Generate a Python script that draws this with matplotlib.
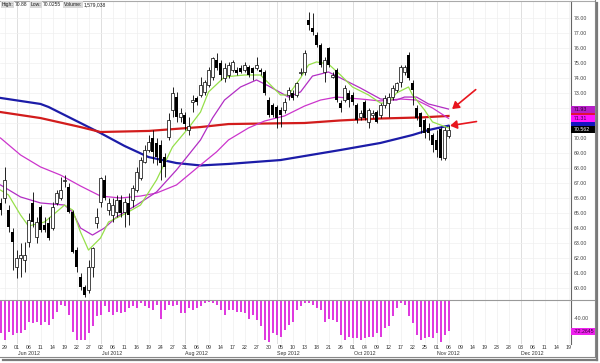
import matplotlib
matplotlib.use("Agg")
import matplotlib.pyplot as plt
import matplotlib.transforms as mtransforms
from matplotlib.patches import Rectangle
from matplotlib.lines import Line2D
import numpy as np

plt.rcParams['font.family'] = ['Liberation Sans', 'DejaVu Sans']

# daily candles, 25 May 2012 .. 6 Nov 2012 (one entry per trading day)
opens = [65.67, 66.0, 65.2, 63.73, 61.4, 62.0, 61.87, 63.07, 65.67, 63.4,
         65.4, 64.2, 64.33, 64.0, 65.67, 66.0, 67.13, 66.73, 65.07, 62.53,
         60.73, 60.07, 59.87, 61.4, 64.33, 65.73, 67.2, 65.2, 64.87, 65.07,
         65.87, 65.07, 65.67, 65.87, 66.53, 67.33, 68.4, 69.2, 70.0, 69.67,
         69.53, 68.73, 70.07, 71.87, 72.73, 71.4, 71.53, 70.53, 72.4, 72.67,
         72.87, 73.07, 73.53, 74.07, 75.2, 75.0, 74.0, 74.2, 74.53, 74.53,
         74.67, 74.53, 74.73, 74.67, 74.67, 74.53, 74.4, 72.53, 72.2, 72.07,
         71.87, 71.87, 72.87, 73.0, 72.87, 74.33, 74.4, 77.87, 77.33, 76.87,
         76.2, 74.4, 76.0, 74.07, 74.53, 72.33, 72.53, 73.0, 72.87, 72.2,
         71.4, 72.4, 71.07, 71.53, 71.73, 71.53, 72.2, 72.33, 72.73, 73.2,
         73.73, 74.4, 75.53, 73.67, 72.0, 71.67, 71.2, 70.67, 70.2, 69.87,
         70.6, 68.67, 70.15]
highs = [66.0, 68.07, 65.53, 64.0, 62.53, 63.0, 63.07, 65.0, 66.4, 64.73,
         65.53, 64.73, 64.73, 65.73, 66.53, 67.4, 67.53, 67.0, 65.2, 62.73,
         61.0, 60.2, 61.87, 62.73, 65.33, 67.4, 67.53, 66.0, 66.0, 66.2,
         66.2, 66.0, 66.33, 66.87, 68.07, 68.73, 69.53, 70.2, 70.53, 70.0,
         69.87, 69.0, 71.67, 73.4, 73.07, 72.0, 71.73, 71.4, 72.87, 72.8,
         74.07, 73.87, 74.73, 75.4, 75.67, 75.2, 75.0, 75.07, 75.2, 74.73,
         74.87, 75.07, 74.87, 74.73, 75.4, 74.67, 74.53, 72.73, 72.33, 72.2,
         72.07, 72.67, 73.4, 73.2, 73.73, 74.67, 75.87, 78.4, 78.33, 77.07,
         76.33, 75.4, 76.07, 74.4, 74.67, 72.53, 73.53, 73.2, 73.07, 72.33,
         71.87, 72.53, 72.0, 71.87, 71.87, 72.33, 72.87, 73.0, 73.53, 73.73,
         74.87, 74.87, 75.73, 73.87, 72.2, 71.73, 71.33, 71.0, 70.33, 70.53,
         70.73, 70.73, 70.88]
lows = [64.87, 65.67, 63.73, 61.2, 60.67, 60.73, 61.07, 62.73, 64.07, 63.0,
        63.73, 63.73, 63.2, 63.87, 65.53, 65.87, 66.73, 65.0, 62.33, 61.07,
        59.87, 59.4, 59.67, 60.73, 64.0, 65.4, 65.87, 64.87, 64.4, 64.73,
        64.73, 64.07, 64.2, 65.4, 66.4, 67.2, 68.33, 69.07, 68.33, 68.2,
        67.2, 67.4, 69.87, 71.4, 71.07, 71.07, 70.53, 70.2, 71.73, 72.2,
        72.73, 72.87, 73.4, 73.87, 74.53, 73.87, 73.73, 74.0, 74.4, 74.2,
        74.33, 74.4, 74.07, 73.87, 74.53, 74.2, 72.87, 71.4, 71.4, 70.67,
        70.73, 71.67, 72.53, 72.53, 72.73, 74.2, 74.2, 77.2, 76.87, 76.07,
        74.73, 73.73, 74.73, 74.0, 72.4, 71.73, 72.4, 72.07, 72.2, 71.0,
        71.2, 71.2, 70.67, 71.33, 71.0, 71.33, 72.0, 71.4, 72.53, 73.07,
        73.4, 74.2, 73.87, 72.2, 71.2, 70.33, 70.0, 69.87, 69.07, 68.73,
        68.53, 68.53, 70.0255]
closes = [65.2, 67.2, 64.07, 63.07, 62.0, 62.2, 62.2, 64.53, 64.4, 64.4,
          63.87, 63.87, 63.33, 65.4, 66.33, 66.53, 67.2, 65.07, 62.4, 61.4,
          60.07, 59.53, 61.4, 62.67, 64.73, 67.33, 66.0, 65.67, 65.53, 65.87,
          65.0, 65.73, 64.87, 66.67, 67.73, 68.53, 69.2, 69.73, 69.07, 68.73,
          68.33, 68.07, 71.2, 73.0, 71.4, 71.67, 70.93, 70.8, 72.53, 72.4,
          73.53, 73.73, 74.53, 75.33, 74.67, 74.2, 74.67, 74.87, 75.07, 74.33,
          74.4, 74.87, 74.2, 74.33, 74.87, 74.4, 73.0, 71.53, 71.53, 71.33,
          71.53, 72.4, 73.2, 72.67, 73.67, 74.4, 75.67, 77.53, 77.07, 76.2,
          74.87, 75.2, 74.87, 74.2, 72.53, 72.0, 73.33, 72.53, 72.4, 71.2,
          71.67, 71.33, 71.87, 71.67, 71.07, 72.2, 72.67, 72.73, 73.33, 73.67,
          74.73, 74.73, 74.0, 73.2, 71.33, 70.73, 70.33, 70.33, 69.53, 69.2,
          68.67, 70.53, 70.562]

# Williams %R, one value per candle
willr = [-76, -93, -74, -81, -76, -76, -69, -50, -53, -50, -57, -50, -57, -43,
         -26, -10, -12, -33, -74, -93, -93, -93, -76, -60, -36, -33, -12, -26,
         -33, -26, -29, -26, -17, -12, -17, -5, -12, -17, -21, -10, -43, -21,
         -10, -12, -10, -29, -29, -17, -21, -17, -12, -5, -3, -5, -10, -21,
         -33, -21, -21, -26, -26, -29, -43, -33, -45, -60, -93, -97, -76, -81,
         -86, -69, -57, -50, -21, -12, -5, -5, -10, -17, -21, -50, -43, -45,
         -50, -81, -93, -86, -88, -88, -93, -88, -86, -86, -76, -86, -64, -60,
         -36, -17, -5, -10, -36, -53, -81, -93, -88, -86, -88, -76, -97, -81,
         -72.26]

# moving averages (bar index, price)
green_idx = [0, 2, 5, 7, 11, 14, 16, 18, 20, 22, 25, 27, 31, 35, 39, 43, 47, 50,
             52, 56, 61, 65, 67, 70, 72, 75, 77, 79, 82, 85, 88, 92, 95, 97, 99,
             102, 103, 106, 108, 112]
green_val = [66.53, 66.2, 64.87, 64.13, 64.4, 65.07, 65.53, 65.2, 63.73, 62.53,
             63.33, 64.4, 64.93, 65.53, 67.2, 69.4, 70.67, 71.73, 73.07, 74.07,
             74.2, 74.2, 73.67, 72.87, 72.87, 74.0, 74.87, 75.07, 74.93, 74.2,
             73.4, 72.87, 72.33, 72.33, 73.0, 73.4, 72.87, 71.87, 71.07, 70.67]
fast_idx = [0, 5, 10, 16, 18, 20, 23, 26, 29, 34, 39, 44, 50, 53, 56, 60, 64, 67,
            72, 75, 78, 82, 85, 90, 95, 99, 101, 104, 107, 112]
fast_val = [66.87, 66.07, 65.67, 65.53, 65.07, 64.0, 63.53, 64.0, 64.73, 65.53,
            66.4, 67.87, 69.87, 71.33, 72.53, 73.4, 73.87, 73.47, 72.73, 73.07,
            74.13, 74.4, 74.0, 73.33, 72.6, 72.53, 72.73, 72.73, 72.27, 71.93]
slow_idx = [0, 5, 10, 15, 20, 25, 30, 35, 39, 44, 50, 54, 57, 62, 66, 71, 76, 80,
            84, 90, 95, 100, 104, 108, 112]
slow_val = [70.0, 68.87, 68.07, 67.53, 66.8, 66.13, 66.0, 66.13, 66.33, 66.87,
            68.2, 69.07, 69.87, 70.67, 71.13, 71.47, 72.13, 72.53, 72.73, 72.6,
            72.47, 72.6, 72.53, 72.0, 71.31]
red_idx = [0, 10, 20, 25, 37, 50, 57, 67, 76, 85, 95, 105, 112]
red_val = [71.73, 71.33, 70.73, 70.4, 70.47, 70.73, 70.93, 70.97, 71.0, 71.17,
           71.3, 71.37, 71.47]
blue_idx = [0, 10, 12, 20, 25, 31, 37, 44, 50, 57, 70, 85, 95, 103, 107, 112]
blue_val = [72.67, 72.27, 72.07, 71.0, 70.33, 69.47, 68.73, 68.33, 68.17, 68.27,
            68.53, 69.2, 69.67, 70.2, 70.53, 70.82]

# date axis: a label every third trading day, starting 29 May
tick_labels = ["29", "01", "06", "11", "14", "19", "22", "27", "02", "06", "11",
               "16", "19", "24", "27", "31", "06", "09", "14", "17", "22", "27",
               "30", "05", "10", "13", "18", "21", "26", "01", "04", "09", "12",
               "17", "22", "25", "01", "06", "09", "14", "19", "23", "28", "03",
               "06", "11", "14", "19"]
month_labels = ["Jun 2012", "Jul 2012", "Aug 2012", "Sep 2012", "Oct 2012",
                "Nov 2012", "Dec 2012"]
month_start = [4, 25, 46, 69, 88, 109, 130]

# last values shown in the right margin (red and blue boxes are mostly covered)
box_vals = [71.47, 70.82, 71.93, 71.31, 70.562]
box_text = ["", "", "71.93", "71.31", "70.562"]
box_fc = ['#e0103a', '#1414c0', '#b81ec8', '#ff14ff', '#000000']
box_tc = ['white', 'white', '#2a002a', '#3a003a', 'white']

W, H = 600, 363
fs = 3.8
fig = plt.figure(figsize=(W / 100, H / 100), dpi=100)
fig.patch.set_facecolor('white')

def fx(px):
    return px / W

def fy(py):
    return 1 - py / H

ax = fig.add_axes([0, fy(300), fx(571), (300 - 1) / H])
ax2 = fig.add_axes([0, fy(344), fx(571), 44 / H], sharex=ax)

x = np.arange(len(closes))
o = np.array(opens); c = np.array(closes)
hi = np.array(highs); lo = np.array(lows)

ax.set_xlim(-0.125, 142.625)
ax.set_ylim(59.2, 79.2 - 1 / 15)
ax2.set_ylim(-102.4, 2.4)

# grid
for a in (ax, ax2):
    for t in range(1, 143, 3):
        a.axvline(t, color='#eeeeee', lw=0.5, zorder=0)
    for m in month_start:
        a.axvline(m, color='#dcdcdc', lw=0.6, zorder=0)
for p in range(60, 79):
    ax.axhline(p, color='#f0f0f0', lw=0.5, zorder=0)

# moving averages
ax.plot(blue_idx, blue_val, color='#1c1ca8', lw=1.6, zorder=2)
ax.plot(red_idx, red_val, color='#d21c1c', lw=1.6, zorder=2)
ax.plot(slow_idx, slow_val, color='#cc35cc', lw=0.9, zorder=2)
ax.plot(fast_idx, fast_val, color='#b22ec4', lw=0.9, zorder=2)
ax.plot(green_idx, green_val, color='#96e04a', lw=0.9, zorder=2)

# candles
up = c >= o
bottom = np.minimum(o, c)
height = np.maximum(np.abs(c - o), 0.05)
ax.vlines(x, lo, hi, color='black', lw=0.6, zorder=3)
ax.bar(x[up], height[up], bottom=bottom[up], width=0.6, facecolor='white',
       edgecolor='black', lw=0.5, zorder=4)
ax.bar(x[~up], height[~up], bottom=bottom[~up], width=0.6, color='black', zorder=4)

# Williams %R
ax2.bar(x, willr, width=0.5, color='#df3adf', zorder=2)

# axes styling
for a in (ax, ax2):
    a.yaxis.tick_right()
    for s in ('left', 'top', 'bottom'):
        a.spines[s].set_visible(False)
    a.spines['right'].set_color('#666666')
    a.spines['right'].set_linewidth(0.8)
    a.tick_params(axis='y', length=0, labelsize=fs, colors='#444444', pad=2.2)
ax.set_yticks(range(60, 79))
ax.set_yticklabels([f"{v:.2f}" for v in range(60, 79)])
ax2.set_yticks([-40])
ax2.set_yticklabels(["-40.00"])
ax.tick_params(axis='x', length=0, labelbottom=False)
ax2.set_xticks(range(1, 143, 3))
ax2.set_xticklabels(tick_labels)
ax2.tick_params(axis='x', length=0, labelsize=fs, colors='#333333', pad=0.8)

mtr = mtransforms.blended_transform_factory(ax2.transData, ax2.transAxes)
for m, lab in zip(month_start, month_labels):
    ax2.text(m + 3, -0.205, lab, transform=mtr, fontsize=fs, color='#333333',
             ha='center', va='center')

# value boxes on the right
btr = mtransforms.blended_transform_factory(ax.transAxes, ax.transData)
for v, t, f, tc in zip(box_vals, box_text, box_fc, box_tc):
    ax.add_patch(Rectangle((1.0, v - 0.233), 24 / 571, 0.467, transform=btr,
                           facecolor=f, edgecolor='none', clip_on=False, zorder=5))
    if t:
        ax.text(1.005, v, t, transform=btr, fontsize=fs, color=tc, va='center',
                ha='left', zorder=6, clip_on=False)
btr2 = mtransforms.blended_transform_factory(ax2.transAxes, ax2.transData)
ax2.add_patch(Rectangle((1.0, willr[-1] - 8.3), 24 / 571, 16.6, transform=btr2,
                        facecolor='#ee22ee', edgecolor='none', clip_on=False, zorder=5))
ax2.text(1.005, willr[-1], "-72.2645", transform=btr2, fontsize=fs,
         color='#3a003a', va='center', ha='left', zorder=6, clip_on=False)

# red arrows
arrow = dict(arrowstyle='-|>,head_length=0.4,head_width=0.25', color='#e8161e',
             lw=1.2, shrinkA=0, shrinkB=0)
ax.annotate("", xy=(x[-1] + 0.9, fast_val[-1]), xytext=(17, 14),
            textcoords='offset points', arrowprops=arrow, annotation_clip=False)
ax.annotate("", xy=(x[-1] + 0.4, blue_val[-1]), xytext=(19, 3),
            textcoords='offset points', arrowprops=arrow, annotation_clip=False)

# header, laid out left to right
hdr = [("High:", True), ("70.88", False), ("Low:", True),
       ("70.0255", False), ("Volume:", True), ("1,579,038", False)]
renderer = fig.canvas.get_renderer()
xpos = 1.5
for t, boxed in hdr:
    kw = dict(fontsize=3.6, color='#222222', va='center', ha='left')
    if boxed:
        kw['bbox'] = dict(facecolor='#d9d9d9', edgecolor='none', pad=0.5)
    txt = fig.text(fx(xpos), fy(4.5), t, **kw)
    xpos += txt.get_window_extent(renderer).width + (1.5 if boxed else 3)

# frame and shadow
def fline(x0, y0, x1, y1, **kw):
    fig.add_artist(Line2D([fx(x0), fx(x1)], [fy(y0), fy(y1)], **kw))

fline(0, 300, 594, 300, color='#999999', lw=0.8)
fline(0, 0.5, 594, 0.5, color='#aaaaaa', lw=0.8)
fline(594.5, 0, 594.5, 357, color='#888888', lw=0.8)
fline(0, 357, 594.5, 357, color='#888888', lw=0.8)
fline(596.5, 3, 596.5, 359.5, color='#7a7a7a', lw=1.6)
fline(3, 359.5, 597, 359.5, color='#7a7a7a', lw=1.6)

fig.savefig("out.png", dpi=100, facecolor='white')
